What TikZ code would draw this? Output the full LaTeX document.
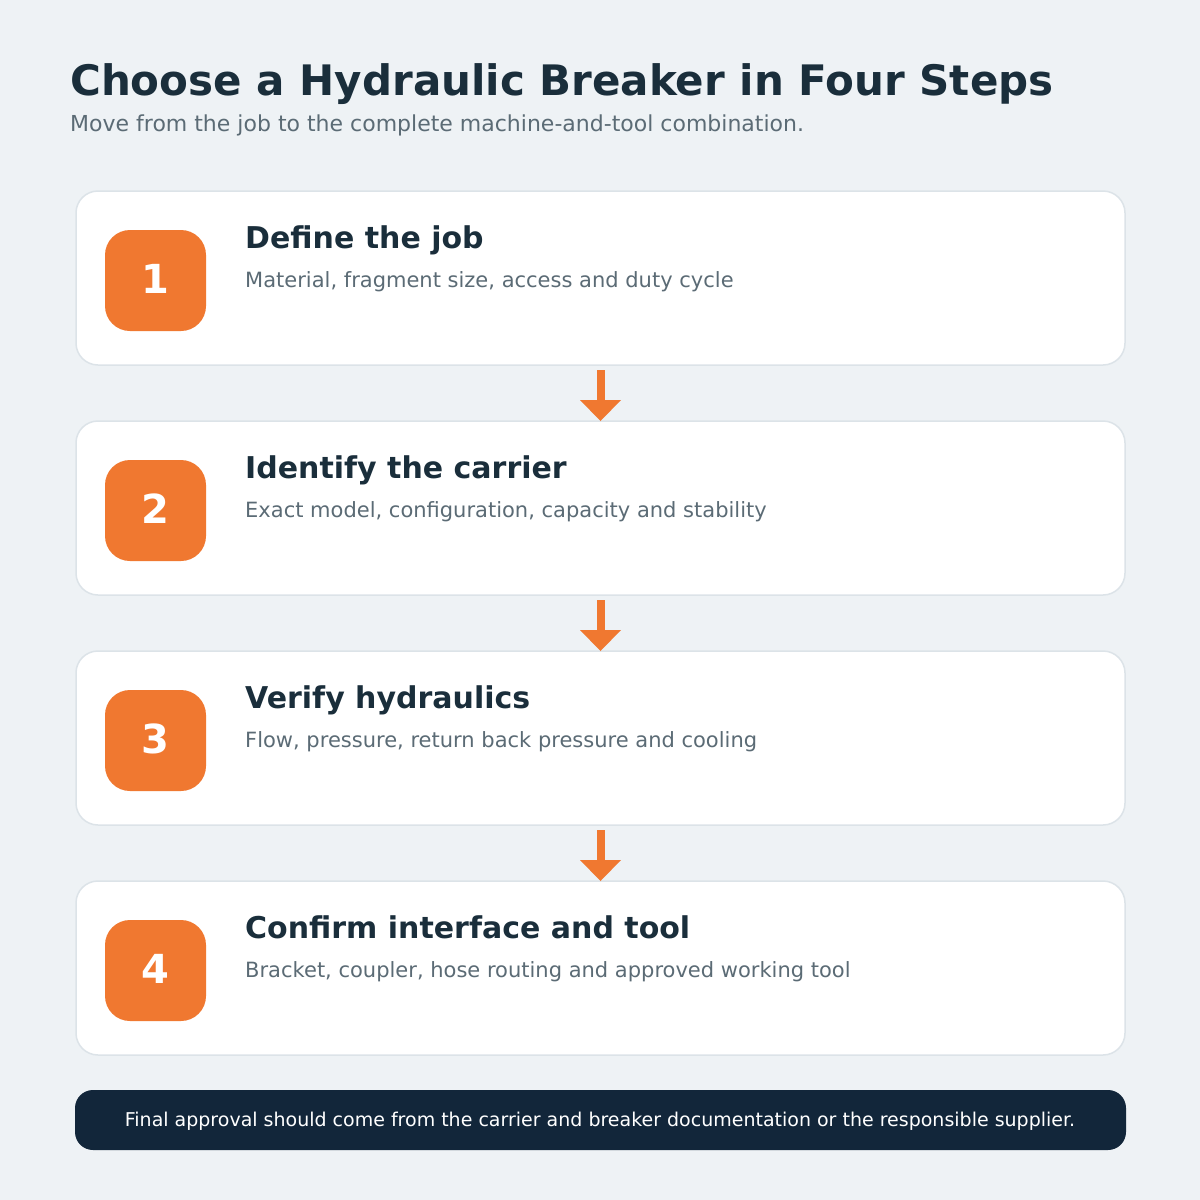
\documentclass[tikz,border=0pt]{standalone}
\usepackage{fontspec}
\setmainfont{DejaVu Sans}
\definecolor{bg}{HTML}{EEF2F5}
\definecolor{cardborder}{HTML}{DCE3E8}
\definecolor{orange}{HTML}{F07830}
\definecolor{dark}{HTML}{1A2E3B}
\definecolor{muted}{HTML}{5B6B75}
\definecolor{navy}{HTML}{12263A}
\tikzset{
  card/.style={draw=cardborder,line width=1.5pt,fill=white,rounded corners=22pt},
  badge/.style={fill=orange,rounded corners=25pt},
  num/.style={text=white,font=\fontsize{40}{48}\selectfont\bfseries},
  head/.style={anchor=base west,text=dark,font=\fontsize{30}{36}\selectfont\bfseries,inner sep=0pt},
  desc/.style={anchor=base west,text=muted,font=\fontsize{21}{26}\selectfont,inner sep=0pt},
  flow/.style={fill=orange},
}
\begin{document}
\begin{tikzpicture}[x=1pt,y=-1pt]
\fill[bg] (0,0) rectangle (1200,1200);
\useasboundingbox (0,0) rectangle (1200,1200);
\node[anchor=base west,inner sep=0pt,text=dark,font=\fontsize{42}{50}\selectfont\bfseries] (title) at (70,95) {Choose a Hydraulic Breaker in Four Steps};
\node[anchor=base west,inner sep=0pt,text=muted,font=\fontsize{22}{26}\selectfont] (sub) at (70,131) {Move from the job to the complete machine-and-tool combination.};
\foreach \i/\h/\d [count=\k from 0] in {
 1/Define the job/{Material, fragment size, access and duty cycle},
 2/Identify the carrier/{Exact model, configuration, capacity and stability},
 3/Verify hydraulics/{Flow, pressure, return back pressure and cooling},
 4/Confirm interface and tool/{Bracket, coupler, hose routing and approved working tool}}{
  \pgfmathsetmacro{\yy}{191+230*\k}
  \draw[card] (76,\yy) rectangle (1125,\yy+174);
  \fill[badge] (105,\yy+39) rectangle (206,\yy+140);
  \node[num] (n\i) at (155,\yy+88) {\i};
  \node[head] (h\i) at (245,\yy+57) {\h};
  \node[desc] (d\i) at (245,\yy+96) {\d};
}
\foreach \k in {0,1,2}{
  \pgfmathsetmacro{\yy}{365+230*\k}
  \fill[flow] (597,\yy+5) rectangle (604.5,\yy+36);
  \fill[flow] (580,\yy+35) -- (621,\yy+35) -- (600.5,\yy+56) -- cycle;
}
\fill[navy,rounded corners=18pt] (75,1090) rectangle (1126,1150);
\node[text=white,font=\fontsize{19}{23}\selectfont] (foot) at (600,1121) {Final approval should come from the carrier and breaker documentation or the responsible supplier.};
\end{tikzpicture}
\end{document}
